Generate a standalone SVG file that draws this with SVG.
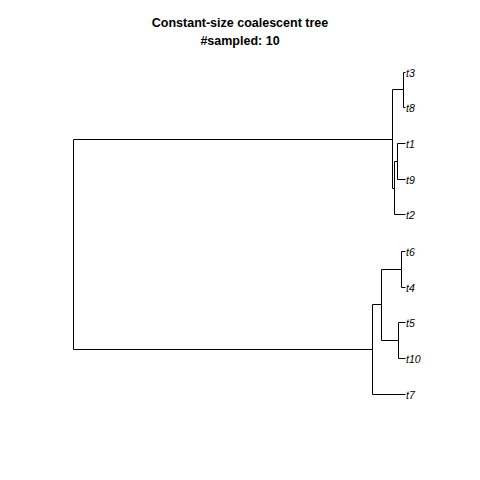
<svg xmlns="http://www.w3.org/2000/svg" width="480" height="480" viewBox="0 0 480 480">
<style>
.e{stroke:#000;stroke-width:1;fill:none;}
.tip{font-family:"Liberation Sans",Arial,sans-serif;font-style:italic;font-size:10.5px;fill:#000;}
.title{font-family:"Liberation Sans",Arial,sans-serif;font-weight:bold;font-size:12.5px;fill:#000;text-anchor:middle;}
</style>
<rect width="480" height="480" fill="#fff"/>
<g id="title">
<text class="title" x="240" y="26.5">Constant-size coalescent tree</text>
<text class="title" x="240" y="44.5">#sampled: 10</text>
</g>
<g id="edges">
<path class="e" d="M73.5,139.5V349.5M73.5,139.5H392.5M73.5,349.5H372.5"/>
<path class="e" d="M392.5,89.5V188.5M392.5,89.5H403.5M392.5,188.5H394.5"/>
<path class="e" d="M403.5,72.5V107.5M403.5,72.5H405.5M403.5,107.5H405.5"/>
<path class="e" d="M394.5,161.5V214.5M394.5,161.5H397.5M394.5,214.5H405.5"/>
<path class="e" d="M397.5,143.5V179.5M397.5,143.5H405.5M397.5,179.5H405.5"/>
<path class="e" d="M372.5,304.5V394.5M372.5,304.5H381.5M372.5,394.5H405.5"/>
<path class="e" d="M381.5,269.5V340.5M381.5,269.5H401.5M381.5,340.5H398.5"/>
<path class="e" d="M401.5,251.5V287.5M401.5,251.5H405.5M401.5,287.5H405.5"/>
<path class="e" d="M398.5,322.5V358.5M398.5,322.5H405.5M398.5,358.5H405.5"/>
</g>
<g id="t3"><text class="tip" x="406" y="76.5">t3</text></g>
<g id="t8"><text class="tip" x="406" y="111.5">t8</text></g>
<g id="t1"><text class="tip" x="406" y="147.5">t1</text></g>
<g id="t9"><text class="tip" x="406" y="183.5">t9</text></g>
<g id="t2"><text class="tip" x="406" y="218.5">t2</text></g>
<g id="t6"><text class="tip" x="406" y="255.5">t6</text></g>
<g id="t4"><text class="tip" x="406" y="291.5">t4</text></g>
<g id="t5"><text class="tip" x="406" y="326.5">t5</text></g>
<g id="t10"><text class="tip" x="406" y="362.5">t10</text></g>
<g id="t7"><text class="tip" x="406" y="398.5">t7</text></g>
</svg>
